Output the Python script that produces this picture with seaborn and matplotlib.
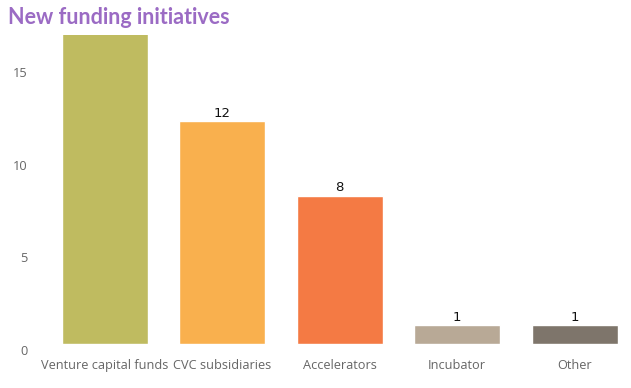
import matplotlib
matplotlib.use("Agg")
import matplotlib.pyplot as plt
import matplotlib.transforms as mtransforms
import seaborn as sns
import pandas as pd

categories = ["Venture capital funds", "CVC subsidiaries", "Accelerators", "Incubator", "Other"]
values = [17, 12, 8, 1, 1]
labels = ["17", "12", "8", "1", "1"]
colors = ["#BFBB60", "#F9B04E", "#F47A44", "#B8A996", "#7E756B"]
yticks = [0, 5, 10, 15]

sns.set_theme(style="white")
plt.rcParams['font.family'] = ['Open Sans', 'DejaVu Sans']

W, H = 631, 388
fig = plt.figure(figsize=(W / 100, H / 100), dpi=100)
left_px, right_px, top_px, bottom_px = 47, 631, 35, 344
ax = fig.add_axes([left_px / W, 1 - bottom_px / H, (right_px - left_px) / W, (bottom_px - top_px) / H])

df = pd.DataFrame({"cat": categories, "val": values})
sns.barplot(data=df, x="cat", y="val", hue="cat", palette=colors, legend=False,
            width=0.733, saturation=1, ax=ax)

unit = 117.4
c0 = 105
ax.set_xlim(-(c0 - left_px) / unit, (right_px - c0) / unit)
ax.set_ylim(0, (bottom_px - top_px) / 18.55)
ax.set_yticks(yticks)
ax.set_yticklabels([str(t) for t in yticks])
ax.set_xlabel("")
ax.set_ylabel("")
for s in ax.spines.values():
    s.set_visible(False)
ax.tick_params(axis="both", length=0, colors="#666666", labelsize=9.2)
ax.tick_params(axis="y", pad=14)
ax.tick_params(axis="x", pad=11)
offset = mtransforms.ScaledTranslation(0, -6 / 100, fig.dpi_scale_trans)
for lab in ax.get_yticklabels():
    lab.set_transform(lab.get_transform() + offset)

for i, (v, l) in enumerate(zip(values, labels)):
    ax.annotate(l, (i, v), xytext=(0, 1), textcoords="offset points",
                ha="center", va="bottom", fontsize=9.5, color="#111111",
                annotation_clip=True, family=["DejaVu Sans"])

fig.text(8 / W, 1 - 17 / H, "New funding initiatives", fontsize=15.5, fontweight="bold",
         color="#9B6BC4", ha="left", va="center", family=["Lato", "DejaVu Sans"])

fig.savefig("out.png", dpi=100)
